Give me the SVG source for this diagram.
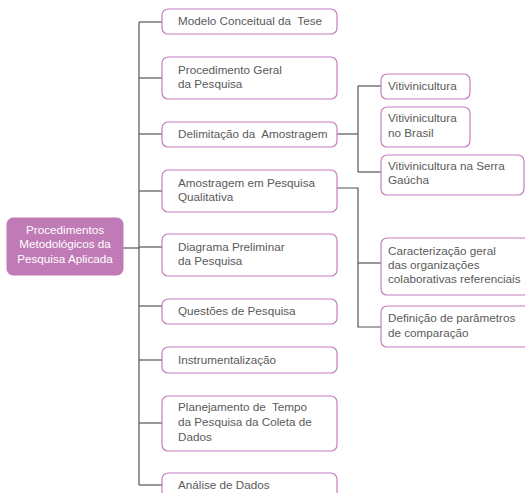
<svg xmlns="http://www.w3.org/2000/svg" width="525" height="493" viewBox="0 0 525 493">
  <style>
    .box { fill: #ffffff; stroke: #c77dbf; stroke-width: 1.2; }
    .root { fill: #c07ab6; stroke: #c07ab6; }
    .lbl { font-family: "Liberation Sans", Arial, sans-serif; font-size: 11.7px; fill: #5a5a5a; }
    .rlbl { font-family: "Liberation Sans", Arial, sans-serif; font-size: 11.7px; fill: #ffffff; text-anchor: middle; }
    .wire { fill: none; stroke: #555555; stroke-width: 1.2; }
  </style>

  <!-- connectors -->
  <g id="connectors">
    <line class="wire" x1="123" y1="248" x2="139" y2="248"/>
    <line class="wire" x1="139" y1="22" x2="139" y2="485"/>
    <line class="wire" x1="139" y1="22" x2="162" y2="22"/>
    <line class="wire" x1="139" y1="78" x2="162" y2="78"/>
    <line class="wire" x1="139" y1="134" x2="162" y2="134"/>
    <line class="wire" x1="139" y1="191" x2="162" y2="191"/>
    <line class="wire" x1="139" y1="247" x2="162" y2="247"/>
    <line class="wire" x1="139" y1="306" x2="162" y2="306"/>
    <line class="wire" x1="139" y1="360" x2="162" y2="360"/>
    <line class="wire" x1="139" y1="423" x2="162" y2="423"/>
    <line class="wire" x1="139" y1="485" x2="162" y2="485"/>
    <!-- Delimitação branch -->
    <line class="wire" x1="337" y1="134" x2="358" y2="134"/>
    <line class="wire" x1="358" y1="86" x2="358" y2="172"/>
    <line class="wire" x1="358" y1="86" x2="381" y2="86"/>
    <line class="wire" x1="358" y1="172" x2="381" y2="172"/>
    <!-- Amostragem branch -->
    <polyline class="wire" points="337,188 358,188 358,327 381,327"/>
    <line class="wire" x1="358" y1="263" x2="381" y2="263"/>
  </g>

  <g id="root">
    <rect class="root" x="7" y="218" width="116" height="57" rx="6"/>
    <text class="rlbl" x="65" y="234">Procedimentos</text>
    <text class="rlbl" x="65" y="248">Metodológicos da</text>
    <text class="rlbl" x="65" y="263">Pesquisa Aplicada</text>
  </g>

  <g id="modelo">
    <rect class="box" x="162" y="9" width="175" height="25" rx="6"/>
    <text class="lbl" x="178" y="25" xml:space="preserve">Modelo Conceitual da  Tese</text>
  </g>

  <g id="procedimento">
    <rect class="box" x="162" y="57" width="175" height="42" rx="6"/>
    <text class="lbl" x="178" y="74">Procedimento Geral</text>
    <text class="lbl" x="178" y="88">da Pesquisa</text>
  </g>

  <g id="delimitacao">
    <rect class="box" x="162" y="122" width="175" height="25" rx="6"/>
    <text class="lbl" x="178" y="138" xml:space="preserve">Delimitação da  Amostragem</text>
  </g>

  <g id="amostragem">
    <rect class="box" x="162" y="170" width="175" height="42" rx="6"/>
    <text class="lbl" x="178" y="187">Amostragem em Pesquisa</text>
    <text class="lbl" x="178" y="201">Qualitativa</text>
  </g>

  <g id="diagrama">
    <rect class="box" x="162" y="234" width="175" height="42" rx="6"/>
    <text class="lbl" x="178" y="251">Diagrama Preliminar</text>
    <text class="lbl" x="178" y="265">da Pesquisa</text>
  </g>

  <g id="questoes">
    <rect class="box" x="162" y="299" width="175" height="25" rx="6"/>
    <text class="lbl" x="178" y="315">Questões de Pesquisa</text>
  </g>

  <g id="instrumentalizacao">
    <rect class="box" x="162" y="347" width="175" height="26" rx="6"/>
    <text class="lbl" x="178" y="364">Instrumentalização</text>
  </g>

  <g id="planejamento">
    <rect class="box" x="162" y="396" width="175" height="55" rx="6"/>
    <text class="lbl" x="178" y="411" xml:space="preserve">Planejamento de  Tempo</text>
    <text class="lbl" x="178" y="426">da Pesquisa da Coleta de</text>
    <text class="lbl" x="178" y="441">Dados</text>
  </g>

  <g id="analise">
    <rect class="box" x="162" y="473" width="175" height="30" rx="6"/>
    <text class="lbl" x="178" y="489">Análise de Dados</text>
  </g>

  <g id="viti">
    <rect class="box" x="381" y="74" width="89" height="25" rx="6"/>
    <text class="lbl" x="388" y="90">Vitivinicultura</text>
  </g>

  <g id="viti-brasil">
    <rect class="box" x="381" y="107" width="89" height="40" rx="6"/>
    <text class="lbl" x="388" y="122">Vitivinicultura</text>
    <text class="lbl" x="388" y="137">no Brasil</text>
  </g>

  <g id="viti-serra">
    <rect class="box" x="381" y="155" width="143" height="40" rx="6"/>
    <text class="lbl" x="388" y="170">Vitivinicultura na Serra</text>
    <text class="lbl" x="388" y="184">Gaúcha</text>
  </g>

  <g id="caracterizacao">
    <rect class="box" x="381" y="238" width="150" height="57" rx="6"/>
    <text class="lbl" x="388" y="255">Caracterização geral</text>
    <text class="lbl" x="388" y="269">das organizações</text>
    <text class="lbl" x="388" y="283">colaborativas referenciais</text>
  </g>

  <g id="definicao">
    <rect class="box" x="381" y="306" width="150" height="41" rx="6"/>
    <text class="lbl" x="388" y="322">Definição de parâmetros</text>
    <text class="lbl" x="388" y="337">de comparação</text>
  </g>
</svg>
